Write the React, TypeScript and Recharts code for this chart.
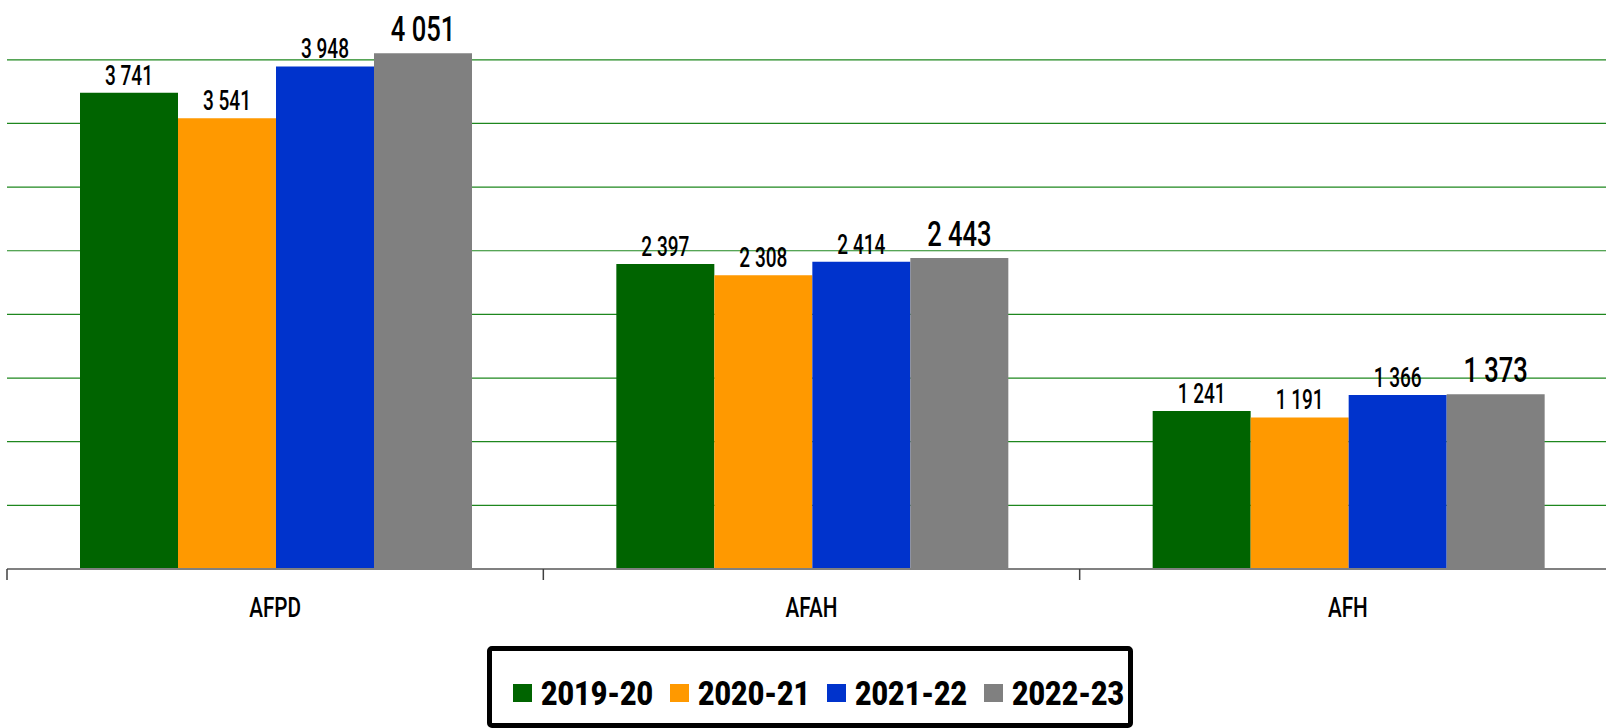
import React from 'react'
import { BarChart, Bar, XAxis, YAxis, CartesianGrid, LabelList } from 'recharts'

/* ---------- data ---------- */

const categories = ['AFPD', 'AFAH', 'AFH']
const seriesNames = ['2019-20', '2020-21', '2021-22', '2022-23']
const seriesColors = ['#006400', '#FF9900', '#0033CC', '#808080']

const values2019 = [3741, 2397, 1241]
const values2020 = [3541, 2308, 1191]
const values2021 = [3948, 2414, 1366]
const values2022 = [4051, 2443, 1373]

const yTicks = [0, 500, 1000, 1500, 2000, 2500, 3000, 3500, 4000]

const seriesValues = [values2019, values2020, values2021, values2022]
const data = categories.map((name, i) => {
  const row: Record<string, string | number> = { name }
  seriesNames.forEach((s, j) => {
    row[s] = seriesValues[j][i]
  })
  return row
})

/* ---------- layout ---------- */

const CHART_W = 1640
const CHART_H = 728
const PLOT_LEFT = 7
const PLOT_RIGHT = 1616
const PLOT_BOTTOM = 569
const Y_MAX = 4470
const BAND = (PLOT_RIGHT - PLOT_LEFT) / categories.length
const NUM_FONT = 'Roboto, "DejaVu Sans Condensed", sans-serif'

const fmt = (v: number) => v.toLocaleString('en-US').replace(/,/g, ' ')

function CategoryTick(props: any) {
  const { x, payload, index } = props
  const left = x - BAND / 2
  const right = x + BAND / 2
  return (
    <g>
      <line x1={left} x2={left} y1={PLOT_BOTTOM} y2={PLOT_BOTTOM + 11} stroke="#404040" strokeWidth={1.5} />
      {index === categories.length - 1 && (
        <line x1={right} x2={right} y1={PLOT_BOTTOM} y2={PLOT_BOTTOM + 11} stroke="#404040" strokeWidth={1.5} />
      )}
      <g transform={`translate(${x},${607}) scale(0.74,1)`}>
        <text x={0} y={0} textAnchor="middle" dominantBaseline="central" fontFamily={NUM_FONT} fontSize={28} fontWeight={500} fill="#000">
          {payload.value}
        </text>
      </g>
    </g>
  )
}

const makeLabel = (big: boolean) => (props: any) => {
  const { x, y, width, value } = props
  const cx = x + width / 2
  const ty = y - (big ? 12 : 8)
  return (
    <g transform={`translate(${cx},${ty}) scale(${big ? 0.73 : 0.68},1)`}>
      <text x={0} y={0} textAnchor="middle" fontFamily={NUM_FONT} fontSize={big ? 35 : 28} fontWeight={500} fill="#000">
        {fmt(value)}
      </text>
    </g>
  )
}

// legend box drawn as html below the plot, Excel-style
function LegendBox() {
  return (
    <div
      style={{
        position: 'absolute',
        left: 487,
        top: 646,
        width: 646,
        height: 82,
        boxSizing: 'border-box',
        border: '5px solid #000',
        borderRadius: 5,
        background: '#fff',
        whiteSpace: 'nowrap',
      }}
    >
      {seriesNames.map((s, i) => (
        <div key={s} style={{ position: 'absolute', left: 21 + 157 * i, top: 28, height: 28, display: 'flex', alignItems: 'center' }}>
          <span style={{ width: 19, height: 18, background: seriesColors[i], display: 'inline-block', flexShrink: 0 }} />
          <span
            style={{
              display: 'inline-block',
              marginLeft: 9,
              fontFamily: NUM_FONT,
              fontWeight: 900,
              fontSize: 34,
              lineHeight: '28px',
              color: '#000',
              transform: 'scaleX(0.84)',
              transformOrigin: 'left center',
            }}
          >
            {s}
          </span>
        </div>
      ))}
    </div>
  )
}

export default function App() {
  return (
    <div style={{ position: 'absolute', left: 0, top: 0, width: 1606, height: 728, overflow: 'hidden', background: '#fff' }}>
      <BarChart
        width={CHART_W}
        height={CHART_H}
        data={data}
        margin={{ top: 0, right: CHART_W - PLOT_RIGHT, bottom: CHART_H - PLOT_BOTTOM - 60, left: PLOT_LEFT }}
        barCategoryGap={73}
        barGap={0}
      >
        <CartesianGrid
          horizontal
          vertical={false}
          stroke="#1E871E"
          strokeWidth={1.2}
          horizontalCoordinatesGenerator={({ offset }: any) =>
            yTicks.map((t) => offset.top + offset.height * (1 - t / Y_MAX))
          }
        />
        <XAxis
          dataKey="name"
          height={60}
          interval={0}
          tickLine={false}
          axisLine={{ stroke: '#808080', strokeWidth: 2 }}
          tick={<CategoryTick />}
        />
        <YAxis hide domain={[0, Y_MAX]} ticks={yTicks} allowDataOverflow />
        {seriesNames.map((s, i) => (
          <Bar key={s} dataKey={s} fill={seriesColors[i]} isAnimationActive={false}>
            <LabelList dataKey={s} content={makeLabel(i === seriesNames.length - 1)} />
          </Bar>
        ))}
      </BarChart>
      <LegendBox />
    </div>
  )
}
